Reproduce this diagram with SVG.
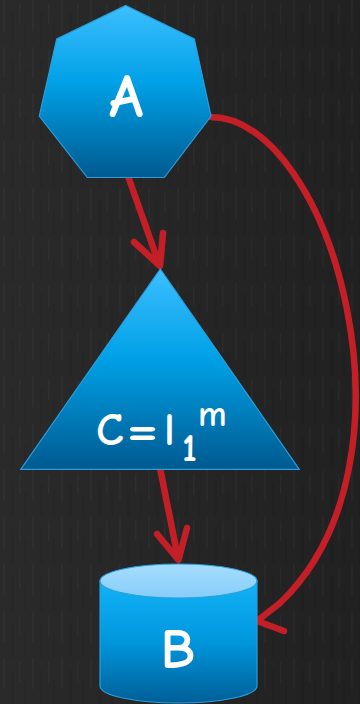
<svg xmlns="http://www.w3.org/2000/svg" width="360" height="704" viewBox="0 0 360 704">
<style>
.edge{fill:none;stroke:#c41f26;stroke-width:6.5;stroke-linecap:round;stroke-linejoin:round}
.lbl{font-family:"Comic Sans MS","Comic Neue","Noto Sans",sans-serif;fill:#ffffff;font-weight:bold}
.shape{stroke:#2a9edb;stroke-width:1.2}
</style>
<defs>
<linearGradient id="bg" x1="0" y1="0" x2="1" y2="0">
<stop offset="0" stop-color="#2a2a2a"/>
<stop offset="1" stop-color="#212121"/>
</linearGradient>
<pattern id="tex" width="29" height="47" patternUnits="userSpaceOnUse">
<rect x="3" y="0" width="2" height="31" fill="#ffffff" opacity="0.025"/>
<rect x="11" y="12" width="3" height="35" fill="#000000" opacity="0.06"/>
<rect x="19" y="4" width="1.5" height="20" fill="#ffffff" opacity="0.03"/>
<rect x="24" y="22" width="2" height="25" fill="#000000" opacity="0.05"/>
</pattern>
<linearGradient id="blue" x1="0" y1="0" x2="0" y2="1">
<stop offset="0" stop-color="#3cbfff"/>
<stop offset="0.45" stop-color="#00a0e6"/>
<stop offset="1" stop-color="#005a90"/>
</linearGradient>
<linearGradient id="cylTop" x1="0" y1="0" x2="0" y2="1">
<stop offset="0" stop-color="#a6ddff"/>
<stop offset="1" stop-color="#86cdf8"/>
</linearGradient>
<linearGradient id="cylBody" x1="0" y1="0" x2="0" y2="1">
<stop offset="0" stop-color="#13b2f8"/>
<stop offset="0.5" stop-color="#0096dc"/>
<stop offset="1" stop-color="#005f98"/>
</linearGradient>
</defs>
<rect width="360" height="704" fill="url(#bg)"/>
<rect width="360" height="704" fill="url(#tex)"/>
<g id="connectors">
<g id="edge-A-C">
<path class="edge" d="M128,176 L159,264"/>
<polyline class="edge" points="134,242 160,266 163,233"/>
</g>
<g id="edge-C-B">
<path class="edge" d="M160,468 L178,558"/>
<polyline class="edge" points="157,534 178.5,560 187,528"/>
</g>
<g id="edge-A-B">
<path class="edge" d="M211,117 C330,117 430,460 280,603"/>
<polyline class="edge" points="280,603 257,621 284,631"/>
</g>
</g>
<g id="node-A">
<polygon class="shape" fill="url(#blue)" points="125.7,5.5 194.3,39 211,116 164.3,177.5 87.3,177.5 39.3,116 56.7,39"/>
<text class="lbl" x="126" y="117" font-size="62" text-anchor="middle">A</text>
</g>
<g id="node-C">
<polygon class="shape" fill="url(#blue)" points="160.3,269 299.3,469.3 20.7,469.3"/>
<text class="lbl" y="445" font-size="46"><tspan x="96">C</tspan><tspan x="164">l</tspan><tspan x="182" y="461" font-size="38">1</tspan><tspan x="198" y="426" font-size="36">m</tspan></text>
<text class="lbl" font-size="46" transform="translate(126,445) scale(1.55,1)">=</text>
</g>
<g id="node-B">
<path class="shape" fill="url(#cylBody)" d="M100,581 L100,686 A78.5,17 0 0 0 257,686 L257,581 Z"/>
<ellipse class="shape" fill="url(#cylTop)" cx="178.5" cy="581" rx="78.5" ry="17"/>
<text class="lbl" x="178" y="668" font-size="57" text-anchor="middle">B</text>
</g>
</svg>
